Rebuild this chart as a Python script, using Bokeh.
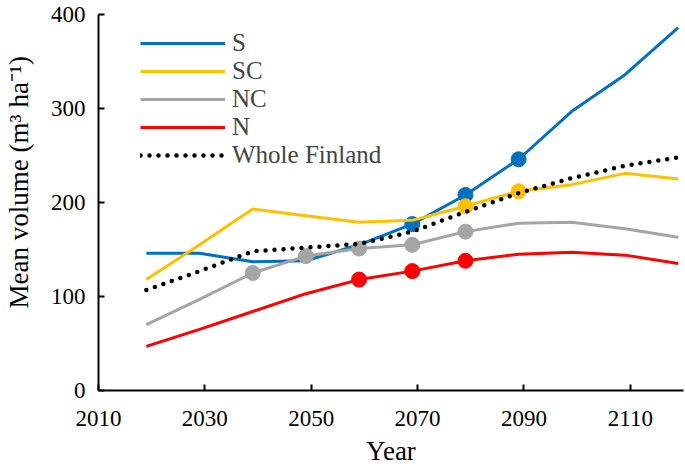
from bokeh.plotting import figure
from bokeh.models import FixedTicker, Legend, LegendItem, Range1d
from bokeh.embed import file_html
from bokeh.resources import INLINE

years = [2019, 2029, 2039, 2049, 2059, 2069, 2079, 2089, 2099, 2109, 2119]
s_vals = [146, 146, 137, 138, 155, 177, 208, 246, 297, 336, 386]
sc_vals = [118, 155, 193, 186, 179, 181, 196, 212, 219, 231, 225]
nc_vals = [70, 97, 125, 143, 151, 155, 169, 178, 179, 172, 163]
n_vals = [47, 65, 84, 103, 118, 127, 138, 145, 147, 144, 135]
wf_vals = [107, 127, 148, 152, 156, 169, 190, 210, 226, 239, 248]

s_marks = [2069, 2079, 2089]
sc_marks = [2079, 2089]
nc_marks = [2039, 2049, 2059, 2069, 2079]
n_marks = [2059, 2069, 2079]

x_ticks = [2010, 2030, 2050, 2070, 2090, 2110]
y_ticks = [0, 100, 200, 300, 400]

FONT = "Liberation Serif"

p = figure(width=685, height=470, output_backend="svg", toolbar_location=None,
           x_range=Range1d(2010, 2120), y_range=Range1d(0, 400),
           min_border_left=98, min_border_right=2, min_border_top=14, min_border_bottom=80)
p.outline_line_color = None
p.grid.visible = False
p.background_fill_color = "white"

series = [
    ("S", s_vals, s_marks, "#0070C0"),
    ("SC", sc_vals, sc_marks, "#FFC000"),
    ("NC", nc_vals, nc_marks, "#A5A5A5"),
    ("N", n_vals, n_marks, "#FF0000"),
]
items = []
for name, vals, marks, col in series:
    r = p.line(years, vals, line_color=col, line_width=3)
    my = [vals[years.index(m)] for m in marks]
    p.scatter(marks, my, size=15, fill_color=col, line_color=col)
    items.append(LegendItem(label=name, renderers=[r]))

wf = p.line(years, wf_vals, line_color="black", line_width=4.5, line_dash="0 9", line_cap="round")
items.append(LegendItem(label="Whole Finland", renderers=[wf]))

legend = Legend(items=items, location=(42, 221), padding=0, margin=0, spacing=-3,
                glyph_width=85, glyph_height=20, label_height=20, label_standoff=7,
                label_text_font=FONT, label_text_font_size="25px",
                background_fill_alpha=0, border_line_color=None)
p.add_layout(legend)

for ax in (p.xaxis[0], p.yaxis[0]):
    ax.axis_line_width = 2
    ax.axis_line_color = "black"
    ax.major_tick_in = 6
    ax.major_tick_out = 0
    ax.major_tick_line_width = 2
    ax.minor_tick_line_color = None
    ax.major_label_text_font = FONT
    ax.major_label_text_font_size = "23px"
    ax.major_label_text_color = "black"
    ax.axis_label_text_font = FONT
    ax.axis_label_text_font_size = "27px"
    ax.axis_label_text_font_style = "normal"
    ax.axis_label_text_color = "black"

p.xaxis.ticker = FixedTicker(ticks=x_ticks)
p.yaxis.ticker = FixedTicker(ticks=y_ticks)
p.xaxis.axis_label = "Year"
p.yaxis.axis_label = "\u00a0" * 6 + "Mean volume (m³ ha⁻¹)"
p.xaxis.major_label_standoff = 20
p.yaxis.major_label_standoff = 13
p.xaxis.axis_label_standoff = 7
p.yaxis.axis_label_standoff = 14

open("out.html", "w").write(file_html(p, INLINE))
